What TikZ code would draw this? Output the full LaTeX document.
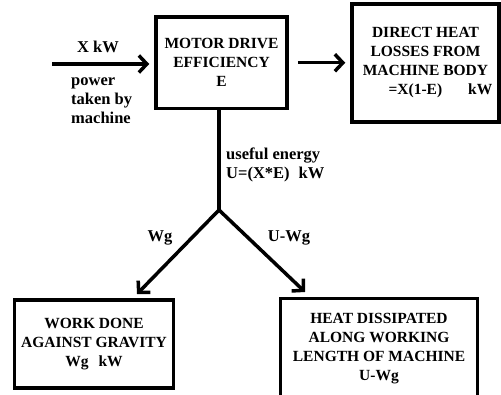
\documentclass[tikz,border=0pt]{standalone}
\usepackage{fontspec}
\setmainfont{Liberation Serif}
\usetikzlibrary{arrows.meta}
\begin{document}
\begin{tikzpicture}[x=1pt,y=-1pt,
  box/.style={draw, line width=3.5pt, align=center, inner sep=0pt, font=\fontsize{15.5}{19}\selectfont\bfseries},
  lbl/.style={inner sep=0pt, font=\fontsize{16.5}{19}\selectfont\bfseries},
  conn/.style={line width=3.5pt, -{Straight Barb[length=8pt,width=17pt]}},
  plain/.style={line width=3.5pt, line cap=round}]
\useasboundingbox (0,0) rectangle (501,395);
\clip (0,0) rectangle (501,395);
\node[box, minimum width=131pt, minimum height=91.5pt] (motor) at (221.5,62.75) {MOTOR DRIVE\\EFFICIENCY\\E};
\node[box, minimum width=147pt, minimum height=118pt] (direct) at (425.5,63) {DIRECT HEAT\\LOSSES FROM\\MACHINE BODY\\\hspace*{30pt}=X(1-E)\hspace{26pt}kW};
\node[box, minimum width=159pt, minimum height=88pt] (bl) at (94,344) {WORK DONE\\AGAINST GRAVITY\\Wg\hspace{10pt}kW};
\node[box, minimum width=197pt, minimum height=101pt] (br) at (379,349) {HEAT DISSIPATED\\ALONG WORKING\\LENGTH OF MACHINE\\U-Wg};
\node[lbl] (xkw) at (98,47) {X kW};
\node[lbl, align=left, anchor=west] (power) at (71,101) {power\\taken by\\machine};
\node[lbl, align=left, anchor=west] (useful) at (226,165) {useful energy\\U=(X*E)\hspace{9pt}kW};
\node[lbl] (wg) at (160,238) {Wg};
\node[lbl] (uwg) at (289,238) {U-Wg};
\coordinate (in) at (52,64);
\coordinate (J) at (219,210);
\coordinate (tl) at (137,294);
\coordinate (tr) at (305,292);
\draw[conn, shorten >=5pt] (in) -- (motor.west |- in);
\draw[conn, shorten <=9pt, shorten >=5pt] (motor.east) -- (motor.east -| direct.west);
\draw[plain] (motor.south -| J) -- (J);
\draw[conn] (J) -- (tl);
\draw[conn] (J) -- (tr);
\end{tikzpicture}
\end{document}
